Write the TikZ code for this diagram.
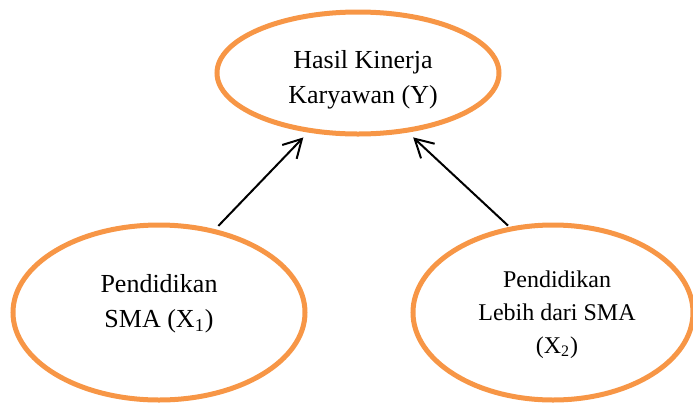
\documentclass[tikz,border=0pt]{standalone}
\usepackage{fontspec}
\setmainfont{Liberation Serif}
\usetikzlibrary{shapes.geometric,arrows.meta}
\definecolor{varorange}{RGB}{247,150,70}
\begin{document}
\begin{tikzpicture}[x=0.5pt, y=-0.5pt,
    varnode/.style={draw=varorange, ellipse, line width=2.5pt},
    vartext/.style={align=center, inner sep=0pt},
    link/.style={-{Straight Barb[length=9pt,width=10pt]}, line width=1pt}]
  \useasboundingbox (0,0) rectangle (693,403);
  \node[varnode, minimum width=141pt, minimum height=61pt] (y) at (358,73) {};
  \node[varnode, minimum width=146pt, minimum height=87.5pt] (x1) at (159,312.5) {};
  \node[varnode, minimum width=140pt, minimum height=87.5pt] (x2) at (553,312.5) {};

  \node[vartext, font=\fontsize{13}{17.5}\selectfont] (ytext) at (363,79.5) {Hasil Kinerja\\Karyawan (Y)};
  \node[vartext, font=\fontsize{13}{17.5}\selectfont] (x1text) at (159,303.5) {Pendidikan\\SMA (X\textsubscript{1})};
  \node[vartext, font=\fontsize{12}{16.5}\selectfont] (x2text) at (557,314.5) {Pendidikan\\Lebih dari SMA\\(X\textsubscript{2})};

  \draw[link, shorten <=2.3pt, shorten >=3.4pt] (x1.56) -- (y.230);
  \draw[link, shorten <=0.9pt, shorten >=3.55pt] (x2.117) -- (y.310);
\end{tikzpicture}
\end{document}
